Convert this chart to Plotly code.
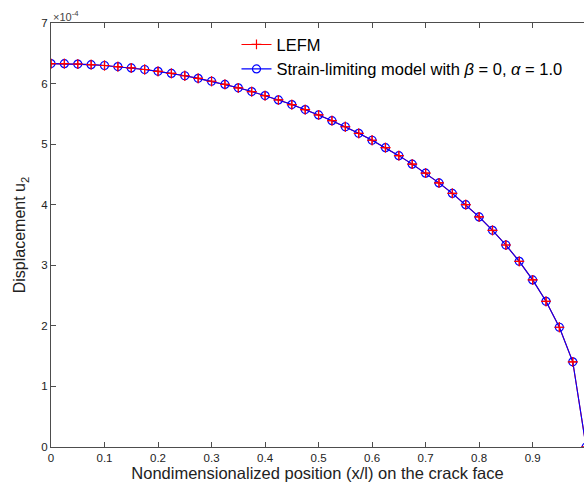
import plotly.graph_objects as go

x_pos = [0.0, 0.025, 0.05, 0.075, 0.1, 0.125, 0.15, 0.175, 0.2, 0.225, 0.25, 0.275, 0.3,
         0.325, 0.35, 0.375, 0.4, 0.425, 0.45, 0.475, 0.5, 0.525, 0.55, 0.575, 0.6, 0.625,
         0.65, 0.675, 0.7, 0.725, 0.75, 0.775, 0.8, 0.825, 0.85, 0.875, 0.9, 0.925, 0.95,
         0.975, 1.0]
u2_e4 = [6.330, 6.328, 6.322, 6.312, 6.298, 6.280, 6.258, 6.232, 6.202, 6.168, 6.129, 6.086,
         6.038, 5.986, 5.930, 5.868, 5.802, 5.730, 5.653, 5.570, 5.482, 5.388, 5.287, 5.179,
         5.064, 4.941, 4.810, 4.670, 4.521, 4.360, 4.187, 4.000, 3.798, 3.577, 3.335, 3.065,
         2.759, 2.405, 1.977, 1.407, 0.0]
lefm = [v * 1e-4 for v in u2_e4]
strain_limiting = [v * 1e-4 for v in u2_e4]

y_ticks = [0, 1, 2, 3, 4, 5, 6, 7]
x_ticks = [0, 0.1, 0.2, 0.3, 0.4, 0.5, 0.6, 0.7, 0.8, 0.9]

FONT = "Liberation Sans, Arial, sans-serif"
AX = "#4d4d4d"

red_marker = dict(symbol="cross-thin", size=7, color="red", line=dict(color="red", width=1.2))
blue_marker = dict(symbol="circle-open", size=8, color="blue", line=dict(color="blue", width=1.2))

fig = go.Figure()
fig.add_trace(go.Scatter(x=x_pos, y=lefm, mode="lines+markers", name="LEFM",
                         line=dict(color="red", width=1.1), marker=red_marker))
fig.add_trace(go.Scatter(x=x_pos, y=strain_limiting, mode="lines+markers",
                         name="Strain-limiting model with <i>β</i> = 0, <i>α</i> = 1.0",
                         line=dict(color="blue", width=1.1), marker=blue_marker))
fig.add_trace(go.Scatter(x=x_pos, y=lefm, mode="markers", showlegend=False,
                         marker=red_marker, hoverinfo="skip"))

fig.update_layout(
    width=584, height=487,
    margin=dict(l=51, r=0, t=23, b=40),
    paper_bgcolor="white", plot_bgcolor="white",
    font=dict(family=FONT, color="#222"),
    showlegend=True,
    legend=dict(x=0.348, y=0.99, xanchor="left", yanchor="top",
                bgcolor="rgba(0,0,0,0)", borderwidth=0,
                font=dict(size=16.5, family=FONT, color="black"),
                tracegroupgap=0, itemwidth=30),
    xaxis=dict(range=[0, 0.996], tickvals=x_ticks, ticktext=[f"{t:g}" for t in x_ticks],
               ticks="inside", ticklen=5, tickcolor=AX, showline=True, linecolor=AX,
               linewidth=1, mirror="ticks", showgrid=False, zeroline=False,
               tickfont=dict(size=11.5, family=FONT, color="#222"),
               title=dict(text="Nondimensionalized position (x/l) on the crack face",
                          font=dict(size=16.5, family=FONT, color="#222"), standoff=1)),
    yaxis=dict(range=[0, 7e-4], tickvals=[t * 1e-4 for t in y_ticks],
               ticktext=[str(t) for t in y_ticks],
               ticks="inside", ticklen=5, tickcolor=AX, showline=True, linecolor=AX,
               linewidth=1, showgrid=False, zeroline=False,
               tickfont=dict(size=11.5, family=FONT, color="#222"),
               title=dict(text="Displacement u<sub>2</sub>",
                          font=dict(size=16, family=FONT, color="#222"), standoff=11)),
)
fig.add_annotation(text="×10<sup>-4</sup>", xref="paper", yref="paper", x=0, y=1,
                   xanchor="left", yanchor="bottom", showarrow=False, yshift=-2,
                   font=dict(size=11, family=FONT, color="#444"))

fig.write_html("out.html")
